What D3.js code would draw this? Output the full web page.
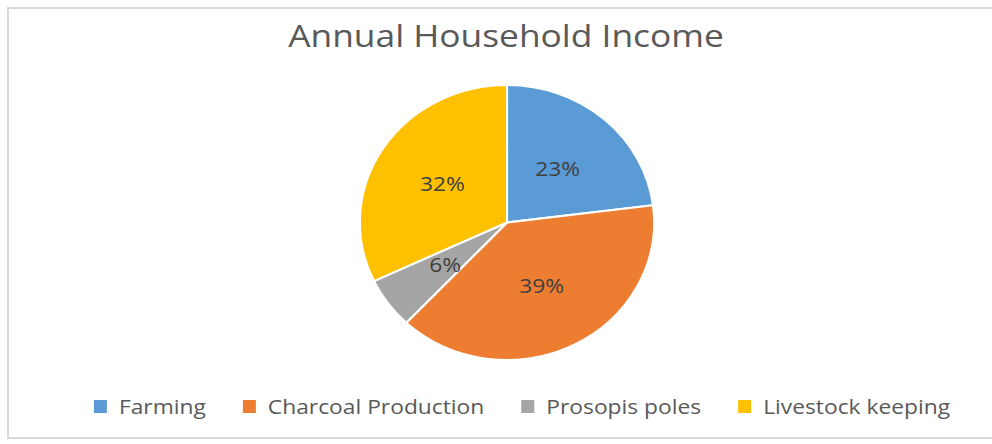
<!DOCTYPE html>
<html>
<head>
<meta charset="utf-8">
<script src="https://cdn.jsdelivr.net/npm/d3@7"></script>
<style>
  body { margin: 0; background: #fff; }
  svg { display: block; font-family: "Open Sans", sans-serif; }
</style>
</head>
<body>
<div id="chart"></div>
<script>
// chart data
var categories = ["Farming", "Charcoal Production", "Prosopis poles", "Livestock keeping"];
var shares = [23, 39, 6, 32];
var colors = ["#5b9bd5", "#ed7d31", "#a5a5a5", "#ffc000"];
var title = "Annual Household Income";

var svgWidth = 992;
var svgHeight = 444;

var data = categories.map(function(c, i) {
    return { name: c, value: shares[i], color: colors[i] };
});

var svg = d3.select("#chart")
    .append("svg")
    .attr("width", svgWidth)
    .attr("height", svgHeight);

// the source picture is stretched sideways a little
var stretch = 1.07;
var textStretch = 1.14;

// outer frame of the chart area
svg.append("rect")
    .attr("x", 8)
    .attr("y", 8)
    .attr("width", 1000)
    .attr("height", 430)
    .attr("fill", "#fff")
    .attr("stroke", "#d9d9d9")
    .attr("stroke-width", 2);

// title
svg.append("text")
    .attr("transform", `translate(506, 47) scale(${textStretch}, 1)`)
    .attr("text-anchor", "middle")
    .style("font-size", "31px")
    .style("fill", "#595959")
    .text(title);

// pie
var radius = 137.5;
var cx = 507, cy = 222.5;

var pie = d3.pie()
    .value(function(d) { return d.value; })
    .sort(null);

var arc = d3.arc()
    .innerRadius(0)
    .outerRadius(radius);

var labelArc = d3.arc()
    .innerRadius(radius * 0.52)
    .outerRadius(radius * 0.52);

var arcs = pie(data);

var pieGroup = svg.append("g")
    .attr("transform", `translate(${cx}, ${cy}) scale(${stretch}, 1)`);

pieGroup.selectAll("path")
    .data(arcs)
    .enter()
    .append("path")
    .attr("d", arc)
    .attr("fill", d => d.data.color)
    .attr("stroke", "#fff")
    .attr("stroke-width", 2)
    .attr("stroke-linejoin", "round");

var labelGroup = svg.append("g")
    .attr("transform", `translate(${cx}, ${cy})`);

labelGroup.selectAll("text")
    .data(arcs)
    .enter()
    .append("text")
    .attr("transform", function(d) {
        var c = labelArc.centroid(d);
        return `translate(${c[0] * stretch}, ${c[1]}) scale(${textStretch}, 1)`;
    })
    .attr("dy", "0.35em")
    .attr("text-anchor", "middle")
    .style("font-size", "20px")
    .style("fill", "#404040")
    .text(d => d.data.value + "%");

// legend
var legend = svg.append("g")
    .attr("transform", "translate(0, 407)");

var items = legend.selectAll("g")
    .data(data)
    .enter()
    .append("g");

items.append("rect")
    .attr("width", 13)
    .attr("height", 13)
    .attr("y", -7)
    .attr("fill", d => d.color);

items.append("text")
    .attr("transform", `translate(25, 0) scale(${textStretch}, 1)`)
    .attr("dy", "0.35em")
    .style("font-size", "20px")
    .style("fill", "#595959")
    .text(d => d.name);

// lay the items out in a row, centred
var gap = 37;
var widths = [];
items.each(function() {
    var t = d3.select(this).select("text").node();
    widths.push(25 + t.getComputedTextLength() * textStretch);
});
var total = d3.sum(widths) + gap * (widths.length - 1);
var xPos = 522 - total / 2;
items.attr("transform", function(d, i) {
    var x = xPos;
    xPos += widths[i] + gap;
    return `translate(${x}, 0)`;
});
</script>
</body>
</html>
